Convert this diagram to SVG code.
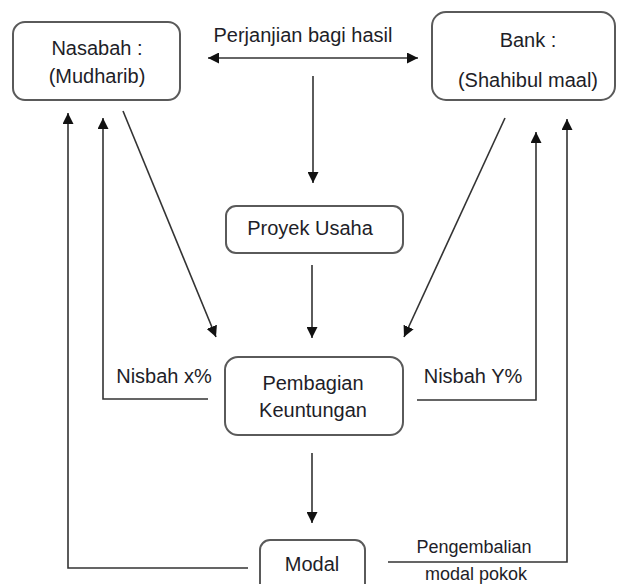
<svg xmlns="http://www.w3.org/2000/svg" width="619" height="584" viewBox="0 0 619 584">
  <style>
    .box { fill: #ffffff; stroke: #5a5a5a; stroke-width: 2; }
    .lbl { font-family: "Liberation Sans", Arial, sans-serif; font-size: 20px; fill: #1e1e28; text-anchor: middle; }
    .sm { font-size: 18px; }
    .ln { fill: none; stroke: #333333; stroke-width: 1.6; }
  </style>
  <defs>
    <marker id="ah" viewBox="0 0 10 10" refX="10" refY="5" markerWidth="11" markerHeight="11" markerUnits="userSpaceOnUse" orient="auto-start-reverse">
      <path d="M0,0 L10,5 L0,10 Z" fill="#111111"/>
    </marker>
  </defs>
  <rect width="619" height="584" fill="#ffffff"/>

  <g id="connectors">
    <line class="ln" x1="208" y1="58" x2="418" y2="58" marker-start="url(#ah)" marker-end="url(#ah)"/>
    <line class="ln" x1="313" y1="76" x2="313" y2="183" marker-end="url(#ah)"/>
    <line class="ln" x1="312" y1="265" x2="312" y2="338" marker-end="url(#ah)"/>
    <line class="ln" x1="312" y1="453" x2="312" y2="523" marker-end="url(#ah)"/>
    <line class="ln" x1="123" y1="111" x2="216" y2="337" marker-end="url(#ah)"/>
    <line class="ln" x1="505" y1="118" x2="404" y2="337" marker-end="url(#ah)"/>
    <polyline class="ln" points="208,399 103,399 103,118" marker-end="url(#ah)"/>
    <polyline class="ln" points="417,400 536,400 536,132" marker-end="url(#ah)"/>
    <polyline class="ln" points="248,568 68,568 68,113" marker-end="url(#ah)"/>
    <polyline class="ln" points="388,562 567,562 567,119" marker-end="url(#ah)"/>
    <text class="lbl" x="303" y="42">Perjanjian bagi hasil</text>
    <text class="lbl" x="164" y="383">Nisbah x%</text>
    <text class="lbl" x="473" y="383">Nisbah Y%</text>
    <text class="lbl sm" x="474" y="553">Pengembalian</text>
    <text class="lbl sm" x="476" y="580">modal pokok</text>
  </g>

  <g id="nasabah">
    <rect class="box" x="13" y="22" width="167" height="78" rx="12"/>
    <text class="lbl" x="97" y="55">Nasabah :</text>
    <text class="lbl" x="97" y="83">(Mudharib)</text>
  </g>

  <g id="bank">
    <rect class="box" x="432" y="12" width="183" height="88" rx="14"/>
    <text class="lbl" x="528" y="47">Bank :</text>
    <text class="lbl" x="528" y="87">(Shahibul maal)</text>
  </g>

  <g id="proyek">
    <rect class="box" x="226" y="206" width="177" height="47" rx="10"/>
    <text class="lbl" x="310" y="235">Proyek Usaha</text>
  </g>

  <g id="pembagian">
    <rect class="box" x="225" y="357" width="178" height="78" rx="13"/>
    <text class="lbl" x="313" y="390">Pembagian</text>
    <text class="lbl" x="313" y="417">Keuntungan</text>
  </g>

  <g id="modal">
    <rect class="box" x="260" y="540" width="105" height="60" rx="10"/>
    <text class="lbl" x="312" y="571">Modal</text>
  </g>
</svg>
